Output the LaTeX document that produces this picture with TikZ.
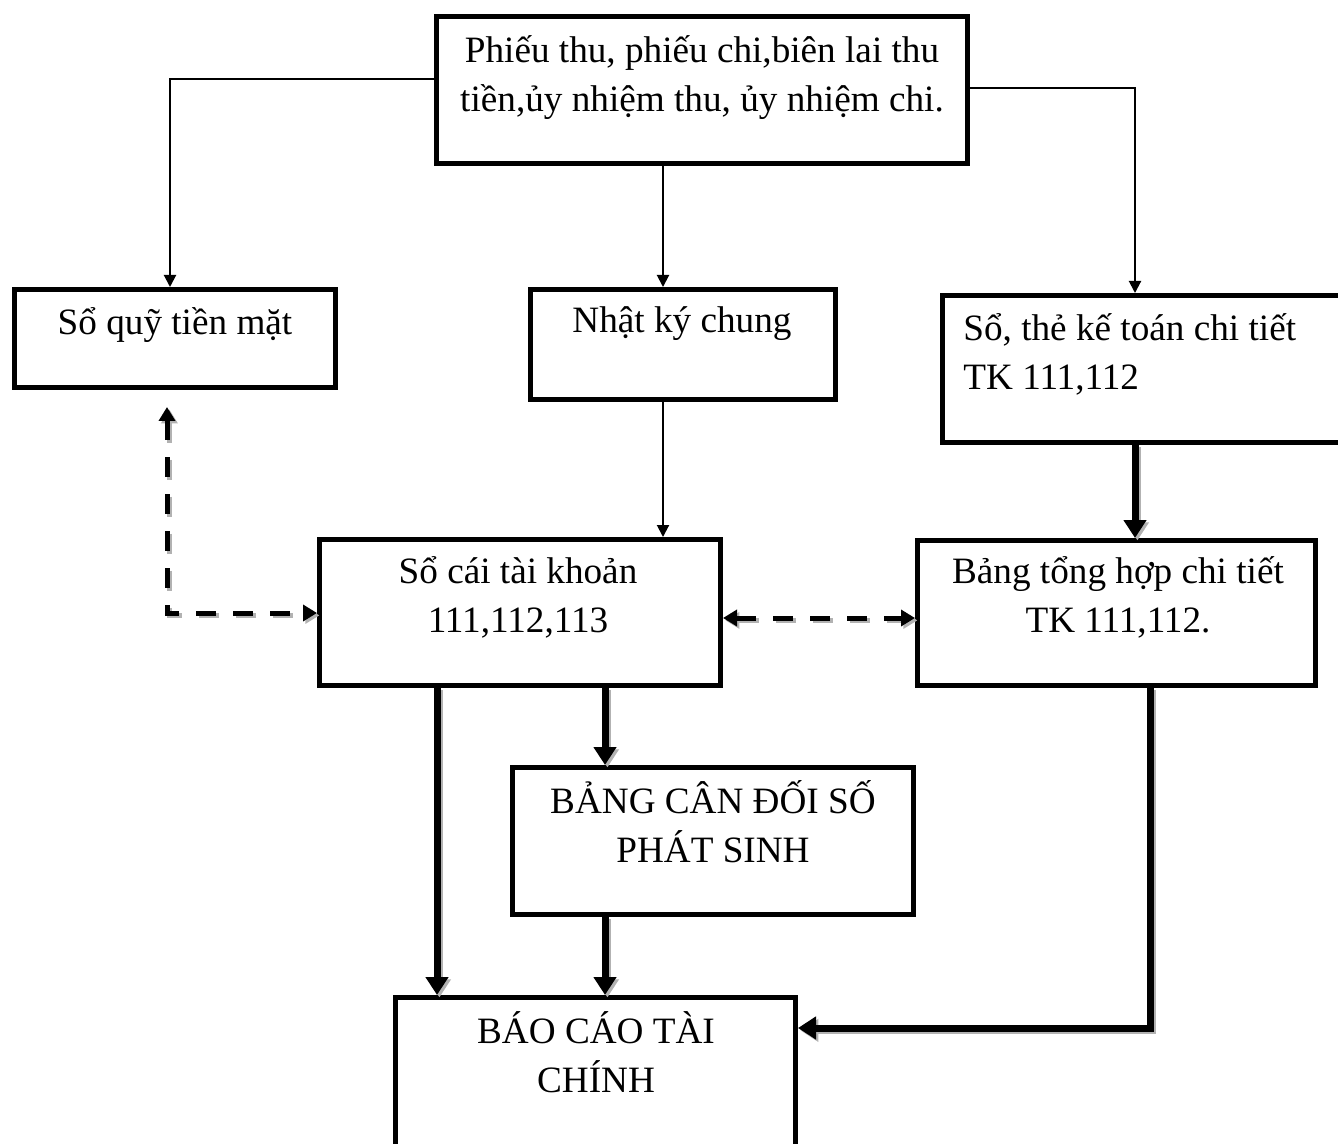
\documentclass[tikz,border=0pt]{standalone}
\usepackage{fontspec}
\setmainfont{Liberation Serif}
\usetikzlibrary{arrows.meta}
\begin{document}
\begin{tikzpicture}[x=0.5pt,y=-0.5pt,
  box/.style={draw, line width=2.5pt, rectangle, inner sep=0pt},
  txt/.style={inner sep=0pt, font=\fontsize{18.6}{24.5}\selectfont},
  thinarr/.style={line width=1pt, -{Triangle[length=6pt,width=6pt]}},
  shadthick/.style={preaction={draw=gray!60, line width=3.5pt,
     transform canvas={shift={(1.2pt,-1.2pt)}}}},
  shaddash/.style={preaction={draw=gray!60, line width=2.5pt, dash pattern=on 10pt off 8.5pt,
     transform canvas={shift={(1.2pt,-1.2pt)}}}},
  thickarr/.style={line width=3.5pt, shadthick, -{Triangle[length=9pt,width=11pt]}},
  dsharr/.style={line width=2.5pt, dash pattern=on 10pt off 8.5pt, shaddash,
     {Triangle[length=7pt,width=8pt]}-{Triangle[length=7pt,width=8pt]}}]
\useasboundingbox (0,0) rectangle (1338,1144);

% boxes
\node[box, minimum width=265.5pt, minimum height=73.5pt] (phieu) at (702,90) {};
\node[box, minimum width=160.5pt, minimum height=49pt] (soquy) at (175,338.5) {};
\node[box, minimum width=152.5pt, minimum height=55pt] (nkc) at (683,344.5) {};
\node[box, minimum width=227.5pt, minimum height=73.5pt] (sothe) at (1170,369) {};
\node[box, minimum width=200.5pt, minimum height=73pt] (socai) at (520,612.5) {};
\node[box, minimum width=199pt, minimum height=72.5pt] (bth) at (1116.5,613) {};
\node[box, minimum width=200.5pt, minimum height=73.5pt] (bcd) at (713,841) {};
\node[box, minimum width=200pt, minimum height=100pt] (bctc) at (595.5,1097.5) {};

% texts
\node[txt, anchor=base, text width=260pt, align=flush center] (tphieu) at (702,63)
  {Phiếu thu, phiếu chi,biên lai thu\\tiền,ủy nhiệm thu, ủy nhiệm chi.};
\node[txt, anchor=base] (tsoquy) at (175,335) {Sổ quỹ tiền mặt};
\node[txt, anchor=base] (tnkc) at (682,333) {Nhật ký chung};
\node[txt, anchor=base west, text width=200pt, align=flush left] (tsothe) at (963,341)
  {Sổ, thẻ kế toán chi tiết\\TK 111,112};
\node[txt, anchor=base, text width=190pt, align=flush center] (tsocai) at (518,583)
  {Sổ cái tài khoản\\111,112,113};
\node[txt, anchor=base, text width=190pt, align=flush center] (tbth) at (1118,583)
  {Bảng tổng hợp chi tiết\\TK 111,112.};
\node[txt, anchor=base, text width=190pt, align=flush center] (tbcd) at (713,813)
  {BẢNG CÂN ĐỐI SỐ\\PHÁT SINH};
\node[txt, anchor=base, text width=190pt, align=flush center] (tbctc) at (596,1043)
  {BÁO CÁO TÀI\\CHÍNH};

% helper coordinates
\coordinate (cl) at (170,79);
\coordinate (cr) at (1135,88);
\coordinate (cm) at (663,0);
\coordinate (cth) at (1135,0);
\coordinate (cs1) at (437,0);
\coordinate (cs2) at (605,0);
\coordinate (cb) at (1150,1028);
\coordinate (dtop) at (167,407);
\coordinate (dcorner) at (167,613);
\coordinate (dmid) at (0,618);

% thin connectors
\draw[thinarr] (phieu.west |- cl) -- (cl) -- (soquy.north -| cl);
\draw[thinarr] (phieu.east |- cr) -- (cr) -- (sothe.north -| cr);
\draw[thinarr] (phieu.south -| cm) -- (nkc.north -| cm);
\draw[thinarr] (nkc.south -| cm) -- (socai.north -| cm);

% thick connectors
\draw[thickarr] (sothe.south -| cth) -- (bth.north -| cth);
\draw[thickarr] (socai.south -| cs1) -- (bctc.north -| cs1);
\draw[thickarr] (socai.south -| cs2) -- (bcd.north -| cs2);
\draw[thickarr] (bcd.south -| cs2) -- (bctc.north -| cs2);
\draw[thickarr] (bth.south -| cb) -- (cb) -- (bctc.east |- cb);

% dashed connectors
\draw[dsharr] (dtop) -- (dcorner) -- (socai.west |- dcorner);
\draw[dsharr] (socai.east |- dmid) -- (bth.west |- dmid);
\end{tikzpicture}
\end{document}
